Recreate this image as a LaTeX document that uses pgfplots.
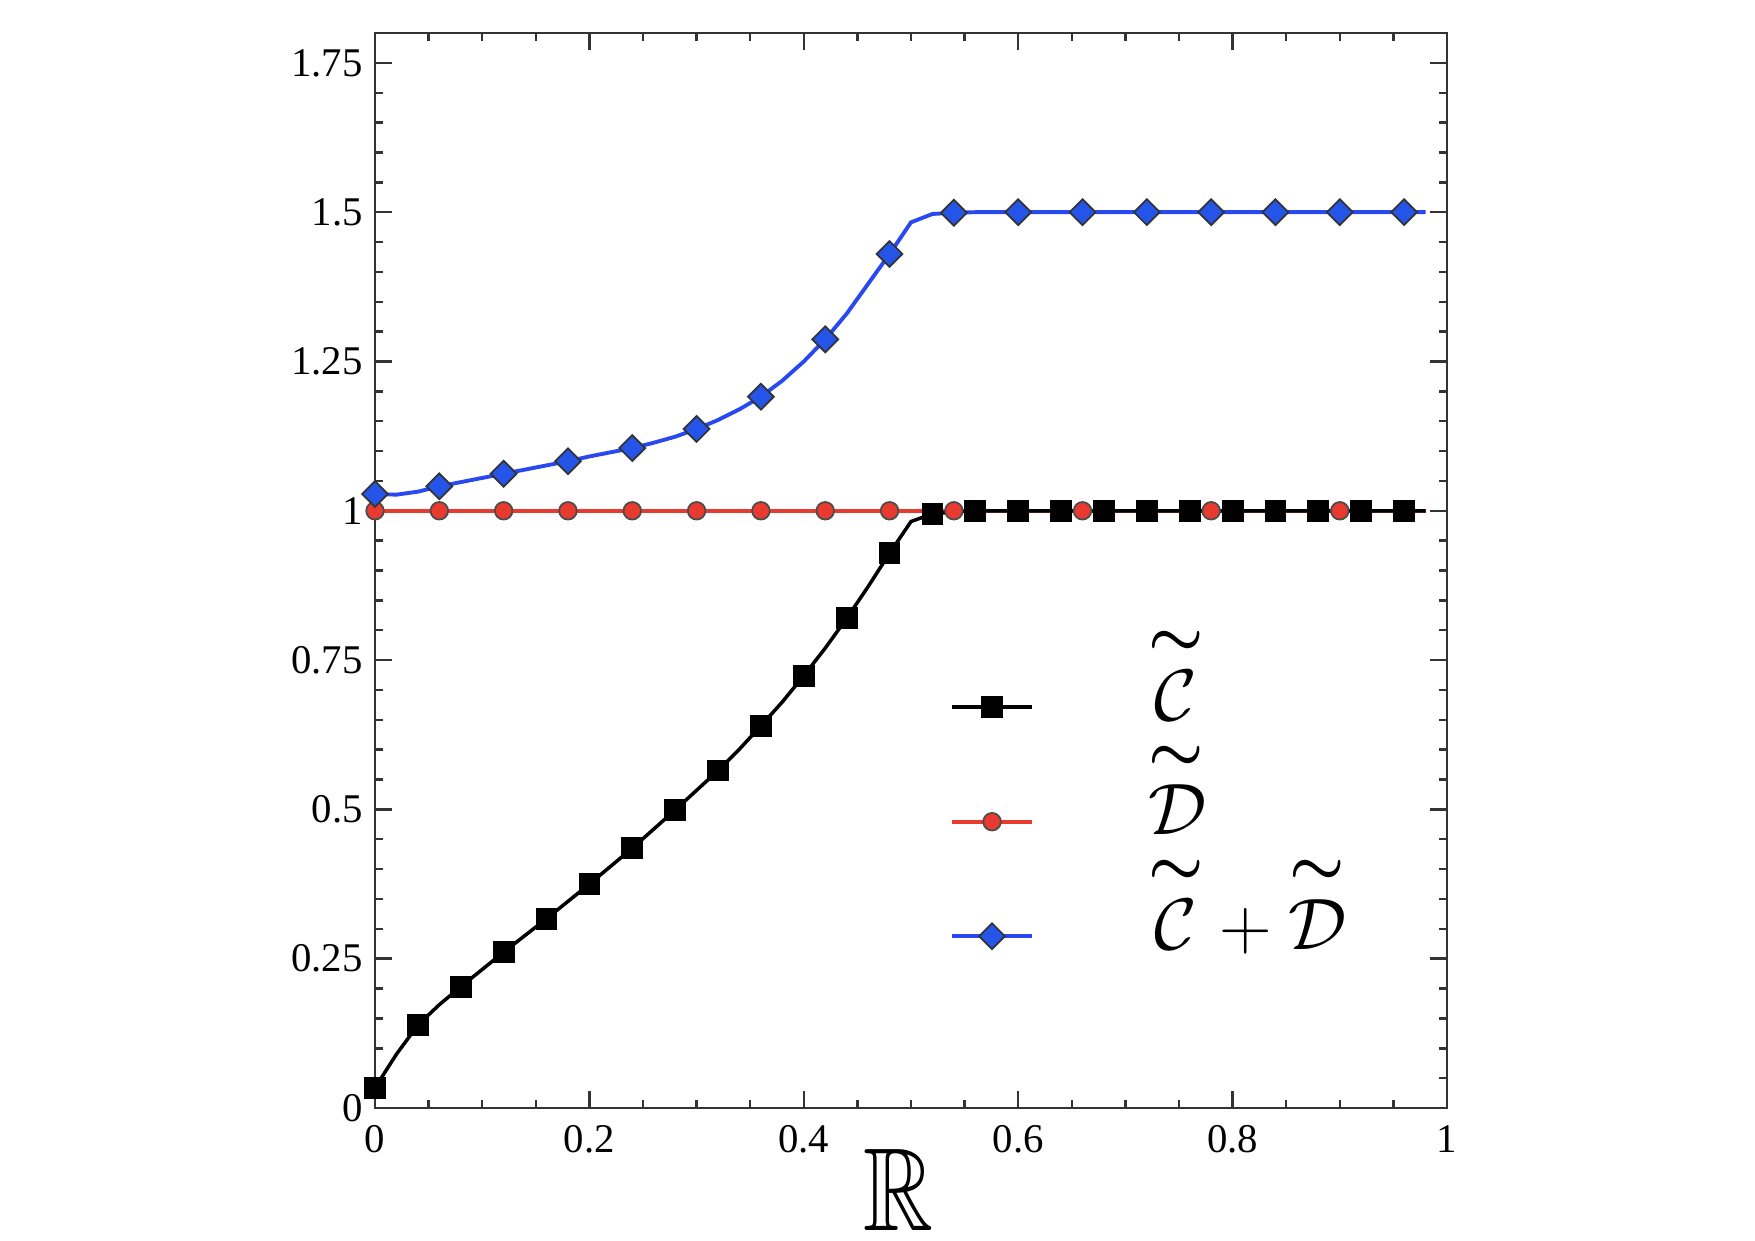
\documentclass[border=0pt]{standalone}
\usepackage{amsmath,amssymb}
\usepackage{graphicx}
\usepackage{fontspec}
\setmainfont{Liberation Serif}
\usepackage{pgfplots}
\pgfplotsset{compat=1.18}
\definecolor{cblue}{RGB}{40,72,240}
\definecolor{cbluefill}{RGB}{36,84,232}
\definecolor{cred}{RGB}{232,58,46}
\newcommand{\tld}[1]{\overset{\scalebox{0.85}[0.85]{$\boldsymbol{\sim}$}}{#1}}
\pgfplotstableread{
x y
0.00 0.034
0.02 0.090
0.04 0.139
0.06 0.173
0.08 0.203
0.10 0.232
0.12 0.261
0.14 0.289
0.16 0.317
0.18 0.346
0.20 0.375
0.22 0.405
0.24 0.435
0.26 0.467
0.28 0.499
0.30 0.532
0.32 0.565
0.34 0.601
0.36 0.640
0.38 0.680
0.40 0.724
0.42 0.770
0.44 0.820
0.46 0.873
0.48 0.929
0.50 0.982
0.52 0.995
0.54 0.998
0.56 1.0
0.58 1.0
0.60 1.0
0.62 1.0
0.64 1.0
0.66 1.0
0.68 1.0
0.70 1.0
0.72 1.0
0.74 1.0
0.76 1.0
0.78 1.0
0.80 1.0
0.82 1.0
0.84 1.0
0.86 1.0
0.88 1.0
0.90 1.0
0.92 1.0
0.94 1.0
0.96 1.0
0.98 1.0
}\tabC
\pgfplotstableread{
x y
0.00 1.0
0.02 1.0
0.04 1.0
0.06 1.0
0.08 1.0
0.10 1.0
0.12 1.0
0.14 1.0
0.16 1.0
0.18 1.0
0.20 1.0
0.22 1.0
0.24 1.0
0.26 1.0
0.28 1.0
0.30 1.0
0.32 1.0
0.34 1.0
0.36 1.0
0.38 1.0
0.40 1.0
0.42 1.0
0.44 1.0
0.46 1.0
0.48 1.0
0.50 1.0
0.52 1.0
0.54 1.0
0.56 1.0
0.58 1.0
0.60 1.0
0.62 1.0
0.64 1.0
0.66 1.0
0.68 1.0
0.70 1.0
0.72 1.0
0.74 1.0
0.76 1.0
0.78 1.0
0.80 1.0
0.82 1.0
0.84 1.0
0.86 1.0
0.88 1.0
0.90 1.0
0.92 1.0
0.94 1.0
0.96 1.0
0.98 1.0
}\tabD
\pgfplotstableread{
x y
0.00 1.028
0.02 1.027
0.04 1.032
0.06 1.041
0.08 1.048
0.10 1.055
0.12 1.062
0.14 1.069
0.16 1.076
0.18 1.083
0.20 1.091
0.22 1.098
0.24 1.105
0.26 1.114
0.28 1.124
0.30 1.137
0.32 1.152
0.34 1.170
0.36 1.191
0.38 1.218
0.40 1.250
0.42 1.287
0.44 1.330
0.46 1.380
0.48 1.430
0.50 1.483
0.52 1.497
0.54 1.499
0.56 1.5
0.58 1.5
0.60 1.5
0.62 1.5
0.64 1.5
0.66 1.5
0.68 1.5
0.70 1.5
0.72 1.5
0.74 1.5
0.76 1.5
0.78 1.5
0.80 1.5
0.82 1.5
0.84 1.5
0.86 1.5
0.88 1.5
0.90 1.5
0.92 1.5
0.94 1.5
0.96 1.5
0.98 1.5
}\tabS
\begin{document}
\begin{tikzpicture}
\begin{axis}[
  scale only axis,
  width=10.72cm, height=10.75cm,
  xmin=0, xmax=1, ymin=0, ymax=1.8,
  xtick={0,0.2,0.4,0.6,0.8,1},
  ytick={0,0.25,0.5,0.75,1,1.25,1.5,1.75},
  minor x tick num=3,
  minor y tick num=4,
  tick align=inside,
  major tick length=0.17cm,
  minor tick length=0.08cm,
  axis line style={line width=0.7pt, black!80},
  every tick/.style={black!80, line width=0.7pt},
  /pgf/number format/assume math mode=true,
  ticklabel style={font=\fontsize{11.6}{14}\selectfont},
  xticklabel style={yshift=-0.05cm},
  xlabel={\scalebox{0.92}[1.12]{$\mathbb{R}$}},
  xlabel style={font=\fontsize{30}{32}\selectfont, inner sep=0pt, yshift=0.16cm, xshift=-0.12cm},
  legend style={draw=none, fill=none, at={(0.526,0.464)}, anchor=north west,
    font=\fontsize{21}{24}\selectfont, row sep=-0.01cm,
    /tikz/every even column/.append style={column sep=0.3cm}},
  legend cell align=left,
  legend image code/.code={%
    \draw[#1,mark repeat=2,mark phase=2,yshift=-0.325cm] plot coordinates {(0cm,0cm) (0.4cm,0cm) (0.8cm,0cm)};},
]
\addplot[forget plot, cred, line width=1.1pt, mark=*, mark repeat=3, mark size=2.5pt,
  mark options={fill=cred, draw=black!70, line width=0.5pt}] table {\tabD};
\addplot[black, line width=1.0pt, mark=square*, mark repeat=2, mark size=2.6pt,
  mark options={fill=black, draw=black}] table {\tabC};
\addlegendimage{cred, line width=1.1pt, mark=*, mark size=2.5pt,
  mark options={fill=cred, draw=black!70, line width=0.5pt}}
\addplot[cblue, line width=1.1pt, mark=square*, mark repeat=3, mark size=2.6pt,
  mark options={fill=cbluefill, draw=black!80, line width=0.5pt, rotate=45}] table {\tabS};
\legend{{\hspace{1.07cm}$\tld{\mathcal{C}}$},{\hspace{1.07cm}$\tld{\mathcal{D}}$},{\hspace{1.07cm}$\tld{\mathcal{C}}+\tld{\mathcal{D}}$}}
\end{axis}
\path[use as bounding box] ([xshift=-3.75cm,yshift=-1.32cm]current axis.south west) rectangle ++(17.55cm,12.40cm);
\end{tikzpicture}
\end{document}
